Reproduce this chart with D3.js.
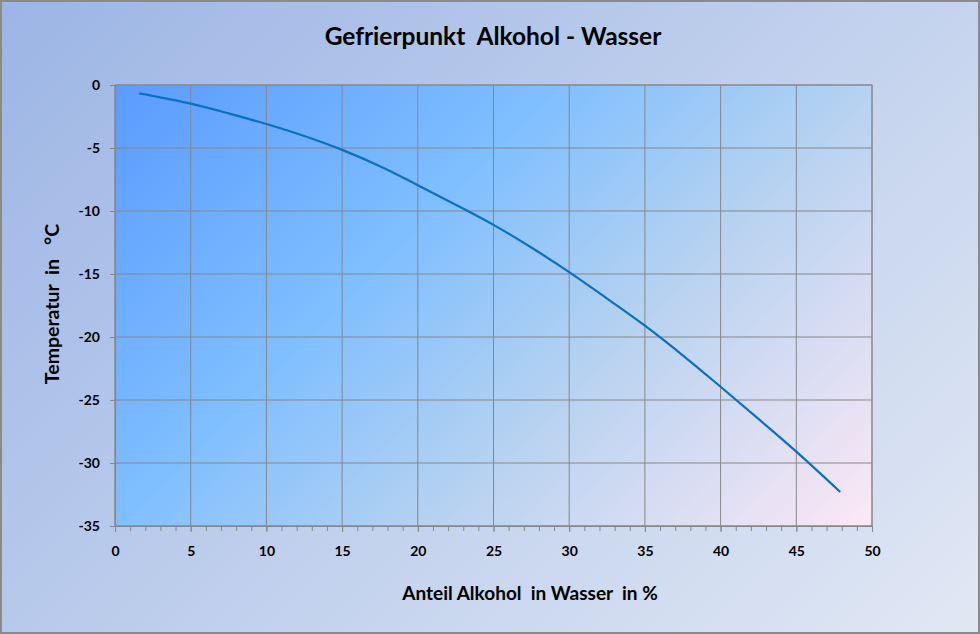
<!DOCTYPE html>
<html>
<head>
<meta charset="utf-8">
<script src="https://cdn.jsdelivr.net/npm/d3@7"></script>
<style>
  body { margin: 0; }
  text { font-family: Lato, "Open Sans", sans-serif; font-weight: bold; fill: #000; }
</style>
</head>
<body>
<div id="chart"></div>
<script>
var svgWidth = 980;
var svgHeight = 634;

var margin = { top: 85, right: 108, bottom: 108, left: 115 };
var width = 872 - margin.left;
var height = 526 - margin.top;

// values: alcohol share (%) and freezing point (°C)
var alcohol = [1.6, 2.5, 5, 7.5, 10, 12.5, 15, 17.5, 20, 22.5, 25, 27.5, 30, 32.5, 35, 37.5, 40, 42.5, 45, 47.9];
var temperature = [-0.67, -0.87, -1.48, -2.25, -3.1, -4.05, -5.15, -6.45, -7.95, -9.5, -11.1, -12.9, -14.85, -16.95, -19.1, -21.45, -23.95, -26.5, -29.1, -32.3];
var xTicks = [0, 5, 10, 15, 20, 25, 30, 35, 40, 45, 50];
var yTicks = [0, -5, -10, -15, -20, -25, -30, -35];

var data = alcohol.map((a, i) => ({ x: a, y: temperature[i] }));

var svg = d3.select("#chart")
  .append("svg")
  .attr("width", svgWidth)
  .attr("height", svgHeight);

var defs = svg.append("defs");

var bgGrad = defs.append("linearGradient")
  .attr("id", "bgGrad")
  .attr("gradientUnits", "userSpaceOnUse")
  .attr("x1", 0).attr("y1", 0)
  .attr("x2", 807).attr("y2", 807);
bgGrad.append("stop").attr("offset", "0%").attr("stop-color", "#9cb5e5");
bgGrad.append("stop").attr("offset", "100%").attr("stop-color", "#e1e8f4");

// 45 degree gradient over the plot area
var plotGrad = defs.append("linearGradient")
  .attr("id", "plotGrad")
  .attr("gradientUnits", "userSpaceOnUse")
  .attr("x1", 0).attr("y1", 0)
  .attr("x2", 599).attr("y2", 599);
plotGrad.append("stop").attr("offset", "0%").attr("stop-color", "#5a9bff");
plotGrad.append("stop").attr("offset", "37%").attr("stop-color", "#80bfff");
plotGrad.append("stop").attr("offset", "63%").attr("stop-color", "#b6d2f0");
plotGrad.append("stop").attr("offset", "100%").attr("stop-color", "#fce8f5");

// chart background with gray frame
svg.append("rect")
  .attr("x", 1).attr("y", 1)
  .attr("width", svgWidth - 2).attr("height", svgHeight - 2)
  .attr("fill", "url(#bgGrad)")
  .attr("stroke", "#8a8a8a")
  .attr("stroke-width", 2);

var chartGroup = svg.append("g")
  .attr("transform", `translate(${margin.left}, ${margin.top})`);

var xScale = d3.scaleLinear().domain([0, 50]).range([0, width]);
var yScale = d3.scaleLinear().domain([-35, 0]).range([height, 0]);

chartGroup.append("rect")
  .attr("width", width)
  .attr("height", height)
  .attr("fill", "url(#plotGrad)");

// gridlines
chartGroup.append("g")
  .selectAll("line.vgrid")
  .data(xTicks)
  .enter()
  .append("line")
  .attr("x1", d => xScale(d)).attr("x2", d => xScale(d))
  .attr("y1", 0).attr("y2", height)
  .attr("stroke", "#878787")
  .attr("stroke-width", 1);

chartGroup.append("g")
  .selectAll("line.hgrid")
  .data(yTicks)
  .enter()
  .append("line")
  .attr("x1", 0).attr("x2", width)
  .attr("y1", d => yScale(d)).attr("y2", d => yScale(d))
  .attr("stroke", "#878787")
  .attr("stroke-width", 1);

chartGroup.append("rect")
  .attr("width", width)
  .attr("height", height)
  .attr("fill", "none")
  .attr("stroke", "#878787")
  .attr("stroke-width", 1);

// minor ticks on x axis every 1 %
var minorAxis = d3.axisBottom(xScale)
  .ticks(50)
  .tickSize(5)
  .tickFormat("");
chartGroup.append("g")
  .attr("transform", `translate(0, ${height})`)
  .call(minorAxis)
  .call(g => g.select(".domain").remove())
  .selectAll("line").attr("stroke", "#878787");

var bottomAxis = d3.axisBottom(xScale)
  .tickValues(xTicks)
  .tickSize(6)
  .tickPadding(14)
  .tickFormat(d => String(d));
var xAxis = chartGroup.append("g")
  .attr("transform", `translate(0, ${height})`)
  .call(bottomAxis);
xAxis.select(".domain").attr("stroke", "#878787");
xAxis.selectAll("line").attr("stroke", "#878787");
xAxis.selectAll("text").attr("font-size", 14).attr("fill", "#000");

var leftAxis = d3.axisLeft(yScale)
  .tickValues(yTicks)
  .tickSize(5)
  .tickPadding(10)
  .tickFormat(d => String(d));
var yAxis = chartGroup.append("g").call(leftAxis);
yAxis.select(".domain").attr("stroke", "#878787");
yAxis.selectAll("line").attr("stroke", "#878787");
yAxis.selectAll("text").attr("font-size", 14).attr("fill", "#000");

// curve
var line = d3.line()
  .x(d => xScale(d.x))
  .y(d => yScale(d.y))
  .curve(d3.curveCatmullRom.alpha(0.5));

chartGroup.append("path")
  .datum(data)
  .attr("d", line)
  .attr("fill", "none")
  .attr("stroke", "#0a70c2")
  .attr("stroke-width", 2.2);

// titles
svg.append("text")
  .attr("x", 493)
  .attr("y", 45)
  .attr("text-anchor", "middle")
  .attr("font-size", 24.5)
  .attr("xml:space", "preserve")
  .text("Gefrierpunkt  Alkohol - Wasser");

svg.append("text")
  .attr("x", 530)
  .attr("y", 600)
  .attr("text-anchor", "middle")
  .attr("font-size", 19)
  .attr("xml:space", "preserve")
  .text("Anteil Alkohol  in Wasser  in %");

svg.append("text")
  .attr("transform", "translate(59, 304) rotate(-90)")
  .attr("text-anchor", "middle")
  .attr("font-size", 19.5)
  .attr("xml:space", "preserve")
  .text("Temperatur  in   °C");
</script>
</body>
</html>
